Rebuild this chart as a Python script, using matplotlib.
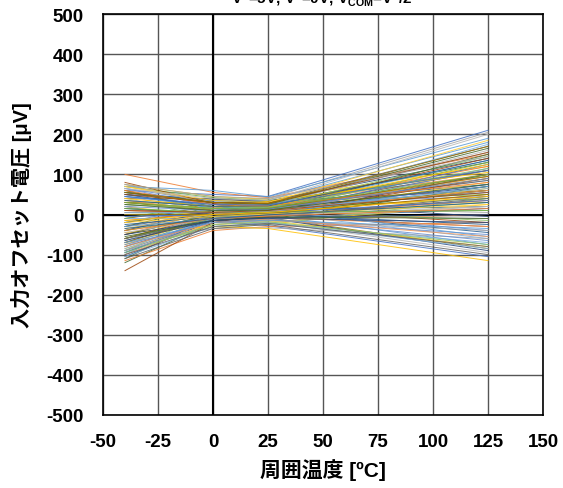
import numpy as np
import matplotlib.pyplot as plt

plt.rcParams['font.family'] = ['Liberation Sans', 'Noto Sans CJK JP', 'DejaVu Sans']
plt.rcParams['axes.unicode_minus'] = False
plt.rcParams['mathtext.fontset'] = 'custom'
plt.rcParams['mathtext.bf'] = 'Liberation Sans:bold'
plt.rcParams['mathtext.rm'] = 'Liberation Sans:bold'

# 測定温度
temps = [-40, 0, 25, 125]

# 各サンプルのオフセット電圧 [uV]
v_m40 = [60, 100, 20, 75, -20, 70, 50, -10, 40, 30,
         55, -30, 65, -40, -80, 70, -20, -90, 45, -50,
         75, -60, -100, 35, -40, 80, -70, -20, 30, -110,
         65, -50, 25, -35, 60, 0, -95, -15, 45, -75,
         50, -40, -105, 10, -60, 60, -80, -120, 0, -100,
         40, -85, -10, -90, 20, -115, -70, -45, 70, -10,
         55, -60, -30, -70, 50, -50, -90, 35, 10, 20,
         -85, 15, -95, 5, -65, 30, 45, -60, 15, -140,
         -60, 30, -25, 55, -75, 10, -45, 70, -105, 25,
         -5, 60, -90, 40, -30, 15, -65, 50, -110, 0,
         35, -55, 20, -80, 65, -20, 5, -95, 45, -40,
         75, -15, -70, 30, -50, 10, -100, 55, -35, 25]
v_0 = [50, 55, 35, 45, 25, 42, 38, 20, 40, 30,
       35, 20, 32, 18, 10, 30, 15, 5, 25, 10,
       25, 5, 0, 20, 10, 28, 0, 10, 15, -5,
       20, 0, 12, 0, 15, 5, -10, 5, 10, -5,
       15, -5, -15, 5, -10, 10, -15, -20, -5, -20,
       0, -25, -10, -30, -15, -40, -35, -30, 60, 30,
       30, 0, 5, -5, 20, 0, -10, 10, 5, -5,
       -10, 5, -15, 5, 0, 15, 20, -10, 0, -20,
       -15, 10, -5, 30, -20, 5, -10, 35, -30, 15,
       0, 25, -25, 20, -10, 5, -15, 30, -35, 0,
       20, -15, 10, -20, 40, -5, 5, -25, 25, -10,
       45, 0, -20, 15, -15, 5, -30, 30, -10, 10]
v_25 = [45, 42, 40, 38, 36, 35, 33, 32, 30, 29,
        28, 27, 26, 25, 24, 23, 22, 21, 20, 19,
        18, 17, 16, 15, 14, 13, 12, 11, 10, 9,
        8, 7, 6, 5, 4, 3, 2, 1, 0, -1,
        -2, -3, -4, -5, -6, -8, -10, -12, -14, -16,
        -18, -20, -22, -25, -28, -30, -33, -35, 44, 31,
        27, 19, 15, 11, 7, 3, -1, -7, -11, -15,
        20, 12, 5, -2, 25, 33, 14, 9, -9, 1,
        -5, 15, 0, 25, -10, 8, -3, 30, -20, 18,
        4, 22, -15, 20, 2, 6, -8, 28, -25, 3,
        21, -6, 13, -12, 35, 1, 9, -18, 24, -4,
        40, 5, -14, 16, -9, 10, -22, 27, -1, 11]
v_125 = [210, 150, 205, 120, 180, 95, 140, 60, 170, 110,
         75, 130, 45, 100, 160, 30, 85, 145, 55, 120,
         5, 90, 135, 40, 70, -20, 110, 60, 20, 150,
         -40, 95, 35, 80, -60, 10, 125, 50, -10, 65,
         -75, 30, 100, -30, 45, -85, 15, 70, -50, 0,
         -95, 25, -70, 40, -105, -20, -60, -115, 190, 50,
         -5, 140, 85, 100, -45, 60, 115, -30, 20, -80,
         175, -15, 75, 35, 155, 105, -55, 130, -90, 90,
         40, 95, -25, 165, -65, 60, 20, 185, -85, 115,
         35, 80, -40, 125, 70, 10, 0, 155, -100, 50,
         135, -10, 90, -55, 200, 25, 65, -75, 110, 15,
         145, 45, -35, 100, -20, 55, -80, 170, 30, 75]

fig = plt.figure(figsize=(5.63, 4.89), dpi=100)
ax = fig.add_axes([103/563, 1 - 416/489, 440/563, 401/489])

# Excel風の配色
colors = ['#4472C4', '#ED7D31', '#A5A5A5', '#FFC000', '#5B9BD5', '#70AD47',
          '#264478', '#9E480E', '#636363', '#997300', '#255E91', '#43682B',
          '#698ED0', '#F1975A', '#B7B7B7', '#FFCD33', '#7CAFDD', '#8CC168']
for i in range(len(v_25)):
    ax.plot(temps, [v_m40[i], v_0[i], v_25[i], v_125[i]],
            color=colors[i % len(colors)], lw=0.7, alpha=0.85, zorder=3)

ax.set_xlim(-50, 150)
ax.set_ylim(-500, 500)
ax.set_xticks(np.arange(-50, 151, 25))
ax.set_yticks(np.arange(-500, 501, 100))
ax.grid(True, color='#555555', lw=1.0, zorder=1)
ax.axvline(0, color='black', lw=1.5, zorder=2)
ax.axhline(0, color='black', lw=1.5, zorder=2)
ax.tick_params(axis='y', length=0, labelsize=13.5, pad=14)
ax.tick_params(axis='x', length=0, labelsize=13.5, pad=13)
for lbl in ax.get_xticklabels() + ax.get_yticklabels():
    lbl.set_fontweight('bold')
for sp in ax.spines.values():
    sp.set_linewidth(1.2)
    sp.set_color('black')

ax.set_xlabel('周囲温度 [ºC]', fontsize=15, fontweight='bold', labelpad=6)
ax.set_ylabel('入力オフセット電圧 [μV]', fontsize=14.5, fontweight='bold', labelpad=10)

fig.text(0.572, 1 - 4/489,
         r'V$^{\mathbf{+}}$=5V, V$^{\mathbf{-}}$=0V, V$_{\mathbf{COM}}$=V$^{\mathbf{+}}$/2',
         ha='center', va='baseline', fontsize=11, fontweight='bold')

plt.savefig('out.png', dpi=100)
